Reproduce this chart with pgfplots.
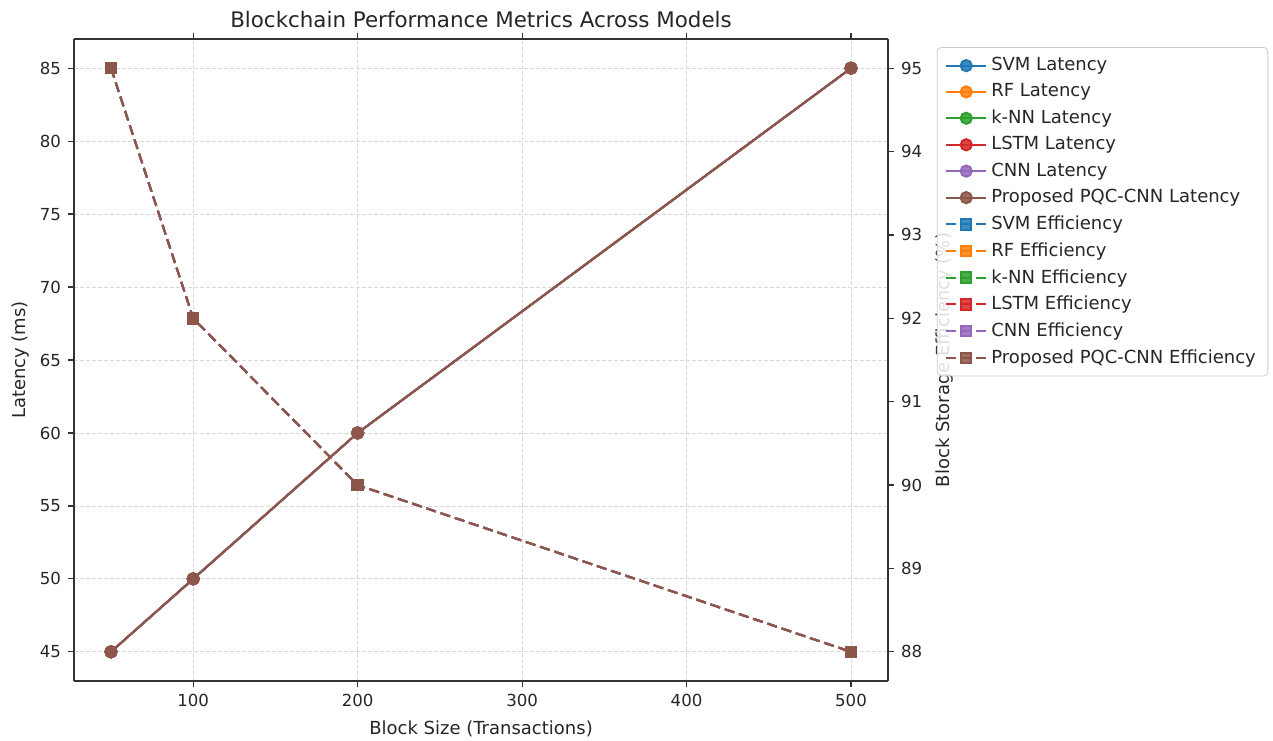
\documentclass[border=0pt]{standalone}
\usepackage{pgfplots}
\pgfplotsset{compat=1.18}
\usepackage{fontspec}
\setmainfont{DejaVu Sans}
\definecolor{c0}{HTML}{1F77B4}
\definecolor{c1}{HTML}{FF7F0E}
\definecolor{c2}{HTML}{2CA02C}
\definecolor{c3}{HTML}{D62728}
\definecolor{c4}{HTML}{9467BD}
\definecolor{c5}{HTML}{8C564B}
\begin{document}
\begin{tikzpicture}
\useasboundingbox (-37pt,-29.5pt) rectangle (599.5pt,340.5pt);
\pgfplotsset{
  common/.style={width=407pt,height=321pt,scale only axis,at={(0,0)},anchor=south west,
    xmin=27.5,xmax=522.5,
    tick align=outside, major tick length=3pt,
    tick style={black!80, line width=0.6pt},
    axis line style={black!80, line width=0.7pt},
    ticklabel style={font=\fontsize{8.3}{10}\selectfont, text=black!85},
    label style={font=\fontsize{9}{11}\selectfont, text=black!85},
    /pgf/number format/assume math mode=true,
    scaled ticks=false},
  lat/.style={#1, line width=1pt, mark=*, mark size=2.8pt, mark options={solid}},
  eff/.style={#1, line width=1pt, dash pattern=on 5pt off 2.5pt, mark=square*, mark size=2.6pt, mark options={solid}},
}
\begin{axis}[common,
  axis y line*=left,
  ymin=43, ymax=87, ytick={45,50,...,85},
  xtick={100,200,300,400,500},
  grid=major, grid style={black!15, dash pattern=on 2pt off 1pt, line width=0.4pt},
  xlabel={Block Size (Transactions)},
  ylabel={Latency (ms)},
  ylabel style={yshift=-1.5pt},
  title={Blockchain Performance Metrics Across Models},
  title style={font=\fontsize{10.7}{12}\selectfont, text=black!85, yshift=-4pt},
]
\addplot[lat=c0] coordinates {(50,45) (100,50) (200,60) (500,85)};
\addplot[lat=c1] coordinates {(50,45) (100,50) (200,60) (500,85)};
\addplot[lat=c2] coordinates {(50,45) (100,50) (200,60) (500,85)};
\addplot[lat=c3] coordinates {(50,45) (100,50) (200,60) (500,85)};
\addplot[lat=c4] coordinates {(50,45) (100,50) (200,60) (500,85)};
\addplot[lat=c5] coordinates {(50,45) (100,50) (200,60) (500,85)};
\end{axis}
\begin{axis}[common,
  axis y line*=right, axis x line=none,
  ymin=87.65, ymax=95.35, ytick={88,89,...,95},
  ylabel={Block Storage Efficiency (\%)},
  legend image code/.code={\draw[mark repeat=2,mark phase=2,#1] plot coordinates {(0pt,0pt) (10pt,0pt) (20pt,0pt)};},
  legend style={at={(1.06,0.9875)}, anchor=north west,
    font=\fontsize{9}{11}\selectfont, text=black!85,
    draw=black!20, rounded corners=2pt, fill=white, fill opacity=0.85, text opacity=1,
    row sep=1pt, inner xsep=4pt, inner ysep=3pt},
  legend cell align=left,
]
\addlegendimage{lat=c0}\addlegendentry{SVM Latency}
\addlegendimage{lat=c1}\addlegendentry{RF Latency}
\addlegendimage{lat=c2}\addlegendentry{k-NN Latency}
\addlegendimage{lat=c3}\addlegendentry{LSTM Latency}
\addlegendimage{lat=c4}\addlegendentry{CNN Latency}
\addlegendimage{lat=c5}\addlegendentry{Proposed PQC-CNN Latency}
\addplot[eff=c0] coordinates {(50,95) (100,92) (200,90) (500,88)};
\addlegendentry{SVM Efficiency}
\addplot[eff=c1] coordinates {(50,95) (100,92) (200,90) (500,88)};
\addlegendentry{RF Efficiency}
\addplot[eff=c2] coordinates {(50,95) (100,92) (200,90) (500,88)};
\addlegendentry{k-NN Efficiency}
\addplot[eff=c3] coordinates {(50,95) (100,92) (200,90) (500,88)};
\addlegendentry{LSTM Efficiency}
\addplot[eff=c4] coordinates {(50,95) (100,92) (200,90) (500,88)};
\addlegendentry{CNN Efficiency}
\addplot[eff=c5] coordinates {(50,95) (100,92) (200,90) (500,88)};
\addlegendentry{Proposed PQC-CNN Efficiency}
\end{axis}
\end{tikzpicture}
\end{document}
